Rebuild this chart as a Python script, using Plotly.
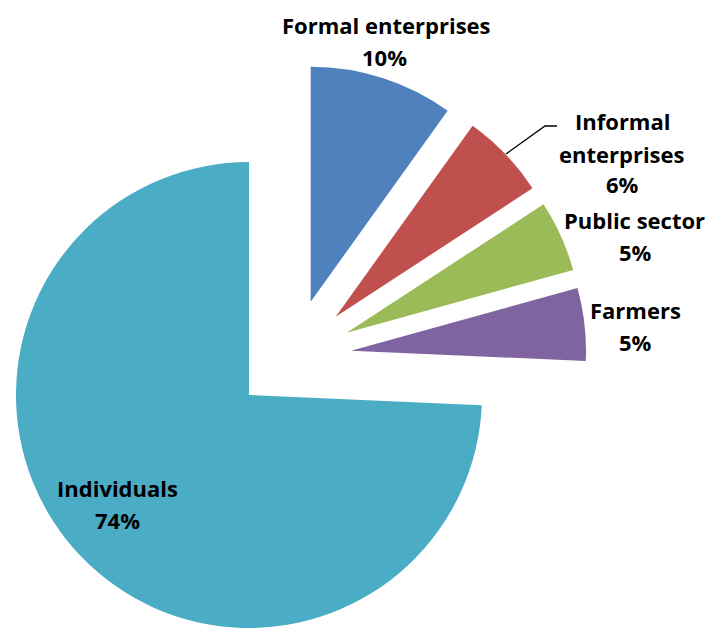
import plotly.graph_objects as go

# ---- data ----
categories = ["Formal enterprises", "Informal enterprises", "Public sector", "Farmers", "Individuals"]
values = [9.9, 5.9, 4.9, 5.0, 74.3]
pct_labels = ["10%", "6%", "5%", "5%", "74%"]
colors = ["#4F81BD", "#C0504D", "#9BBB59", "#8064A2", "#4BACC6"]

W, H = 709, 628

# per-slice apex positions (px) and radius (exploded pie look)
apex = [(310.7, 301.7), (335.7, 316.7), (346.7, 332.7), (351.0, 350.7), (249.0, 395.0)]
radii = [235, 235, 235, 235, 233]

fig = go.Figure()
for i, (cx, cy) in enumerate(apex):
    r = radii[i]
    x0, x1 = max(0, (cx - r) / W), min(1, (cx + r) / W)
    y0, y1 = max(0, 1 - (cy + r) / H), min(1, 1 - (cy - r) / H)
    slice_colors = [c if j == i else "rgba(0,0,0,0)" for j, c in enumerate(colors)]
    fig.add_trace(go.Pie(
        labels=categories, values=values, sort=False, direction="clockwise",
        rotation=0, textinfo="none", showlegend=False,
        marker=dict(colors=slice_colors, line=dict(width=0)),
        domain=dict(x=[x0, x1], y=[y0, y1]),
        hoverinfo="label+percent",
    ))

FONT = dict(family="'Open Sans', sans-serif", size=22, color="black")

informal_words = categories[1].split(" ")
# label lines: (text, x_center_px, y_center_px)
label_lines = [
    (categories[0], 386, 25), (pct_labels[0], 384, 57),
    (informal_words[0], 622, 121), (informal_words[1], 622, 154), (pct_labels[1], 622, 184),
    (categories[2], 634, 220), (pct_labels[2], 635, 252),
    (categories[3], 635, 310), (pct_labels[3], 635, 342),
    (categories[4], 117, 488), (pct_labels[4], 117, 520),
]

for text, x, y in label_lines:
    fig.add_annotation(text="<b>%s</b>" % text, x=x / W, y=1 - y / H,
                       xref="paper", yref="paper", xanchor="center", yanchor="middle",
                       showarrow=False, font=FONT)

# leader line for Informal enterprises
pts = [(506, 154), (545, 126), (557, 126)]
path = "M " + " L ".join("%f,%f" % (px / W, 1 - py / H) for px, py in pts)
fig.add_shape(type="path", path=path, xref="paper", yref="paper",
              line=dict(color="black", width=1.3))

fig.update_layout(width=W, height=H, margin=dict(l=0, r=0, t=0, b=0),
                  paper_bgcolor="white", plot_bgcolor="white")

fig.write_html("out.html")
